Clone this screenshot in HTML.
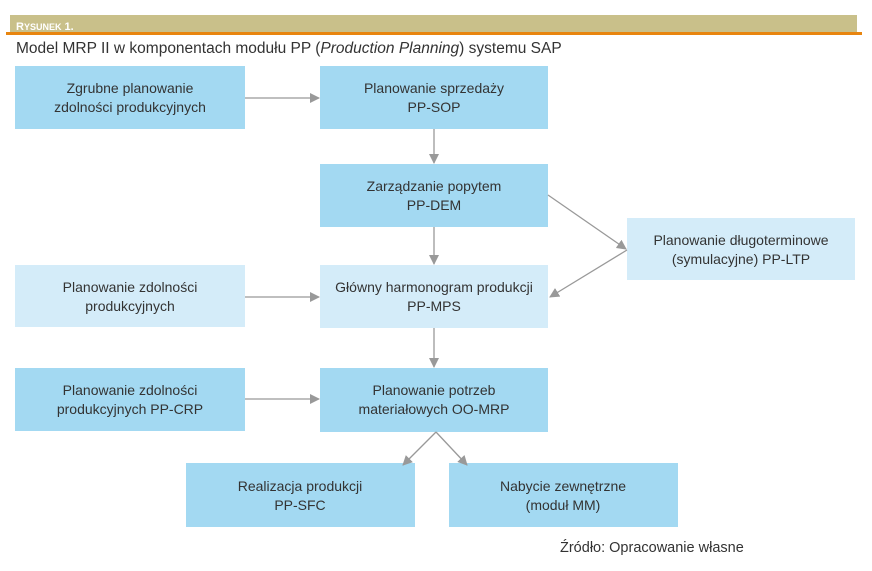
<!DOCTYPE html>
<html><head><meta charset="utf-8"><style>
body{margin:0;background:#fff;width:872px;height:571px;overflow:hidden}
svg{display:block}
text{font-family:"Liberation Sans",sans-serif;font-size:14px;fill:#333}
</style></head><body>
<svg width="872" height="571" viewBox="0 0 872 571">
<defs><marker id="a" markerWidth="10" markerHeight="10" refX="9" refY="5" orient="auto" markerUnits="userSpaceOnUse"><path d="M0,0 L10,5 L0,10 z" fill="#999"/></marker></defs>
<rect x="10" y="15" width="847" height="18" fill="#c9c08a"/>
<rect x="6" y="32" width="856" height="3" fill="#e8850f"/>
<text x="16" y="30" style="font-size:11px;font-weight:bold;fill:#fff">R<tspan style="font-size:9px">YSUNEK</tspan> 1.</text>
<text x="16" y="53" style="font-size:15.5px">Model MRP II w komponentach modułu PP (<tspan font-style="italic">Production Planning</tspan>) systemu SAP</text>
<g fill="#a3d9f2">
<rect x="15" y="66" width="230" height="63"/>
<rect x="320" y="66" width="228" height="63"/>
<rect x="320" y="164" width="228" height="63"/>
<rect x="15" y="368" width="230" height="63"/>
<rect x="320" y="368" width="228" height="64"/>
<rect x="186" y="463" width="229" height="64"/>
<rect x="449" y="463" width="229" height="64"/>
</g>
<g fill="#d4ecf9">
<rect x="627" y="218" width="228" height="62"/>
<rect x="15" y="265" width="230" height="62"/>
<rect x="320" y="265" width="228" height="63"/>
</g>
<g stroke="#999" stroke-width="1.3" marker-end="url(#a)">
<line x1="245" y1="98" x2="319" y2="98"/>
<line x1="434" y1="129" x2="434" y2="163"/>
<line x1="434" y1="227" x2="434" y2="264"/>
<line x1="548" y1="195" x2="626" y2="249"/>
<line x1="627" y1="250" x2="550" y2="297"/>
<line x1="245" y1="297" x2="319" y2="297"/>
<line x1="434" y1="328" x2="434" y2="367"/>
<line x1="245" y1="399" x2="319" y2="399"/>
<line x1="436" y1="432" x2="403" y2="465"/>
<line x1="436" y1="432" x2="467" y2="465"/>
</g>
<g text-anchor="middle">
<text x="130" y="93">Zgrubne planowanie</text><text x="130" y="112">zdolności produkcyjnych</text>
<text x="434" y="93">Planowanie sprzedaży</text><text x="434" y="112">PP-SOP</text>
<text x="434" y="191">Zarządzanie popytem</text><text x="434" y="210">PP-DEM</text>
<text x="741" y="245">Planowanie długoterminowe</text><text x="741" y="264">(symulacyjne) PP-LTP</text>
<text x="130" y="292">Planowanie zdolności</text><text x="130" y="311">produkcyjnych</text>
<text x="434" y="292">Główny harmonogram produkcji</text><text x="434" y="311">PP-MPS</text>
<text x="130" y="395">Planowanie zdolności</text><text x="130" y="414">produkcyjnych PP-CRP</text>
<text x="434" y="395">Planowanie potrzeb</text><text x="434" y="414">materiałowych OO-MRP</text>
<text x="300" y="491">Realizacja produkcji</text><text x="300" y="510">PP-SFC</text>
<text x="563" y="491">Nabycie zewnętrzne</text><text x="563" y="510">(moduł MM)</text>
</g>
<text x="560" y="552" style="font-size:14.5px">Źródło: Opracowanie własne</text>
</svg>
</body></html>
